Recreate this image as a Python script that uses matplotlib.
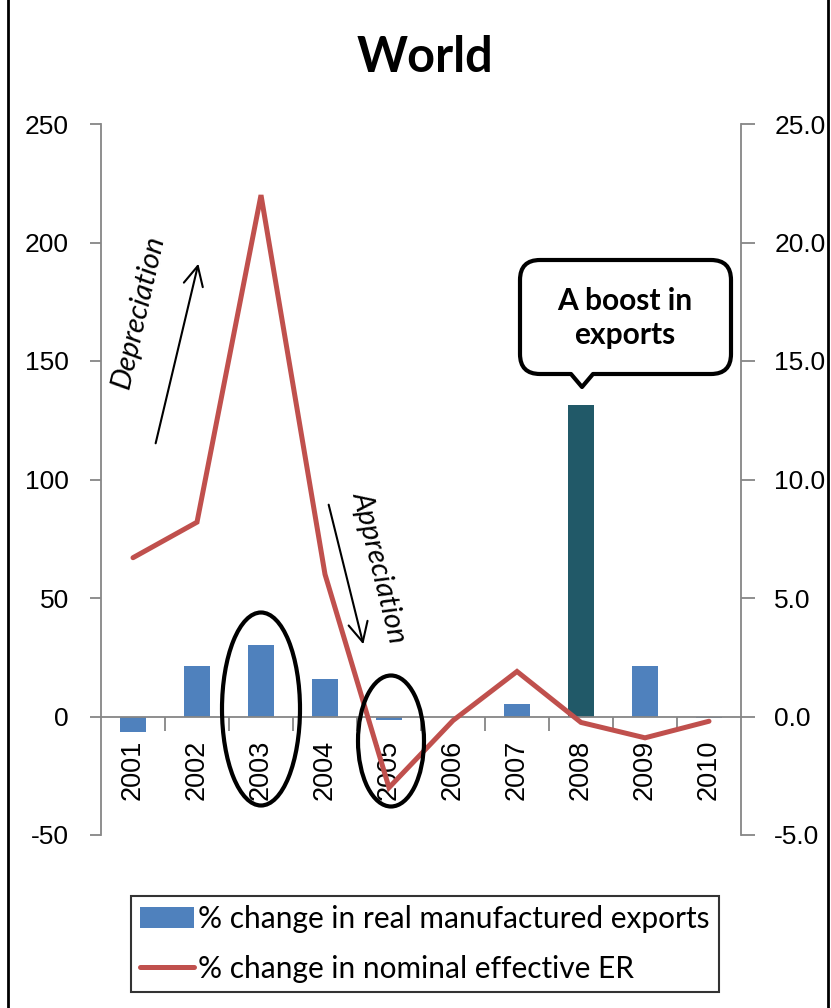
import matplotlib.pyplot as plt
import numpy as np
from matplotlib.patches import Ellipse, FancyArrowPatch, PathPatch, Patch
from matplotlib.path import Path
from matplotlib.transforms import Affine2D
from matplotlib.ticker import FormatStrFormatter
from matplotlib.lines import Line2D

years = ['2001', '2002', '2003', '2004', '2005', '2006', '2007', '2008', '2009', '2010']
exports_chg = [-6.6, 21.5, 30.0, 16.0, -1.5, 0.0, 5.1, 131.6, 21.1, -0.5]
neer_chg = [6.7, 8.2, 22.0, 6.0, -3.0, -0.17, 1.9, -0.25, -0.9, -0.2]
highlight_year = '2008'
left_ticks = [-50, 0, 50, 100, 150, 200, 250]
right_ticks = [-5, 0, 5, 10, 15, 20, 25]
label_bars = '% change in real manufactured exports'
label_line = '% change in nominal effective ER'

W, H = 831, 1008
BLUE = '#4F81BD'
TEAL = '#215968'
RED = '#C0504D'
GREY = '#868686'
CAL = 'Lato'
NUM = 'Liberation Sans'

plt.rcParams['axes.unicode_minus'] = False

fig = plt.figure(figsize=(W / 100, H / 100), dpi=100)
# pixel coords (y down) -> figure
pix = Affine2D().scale(1 / W, -1 / H).translate(0, 1) + fig.transFigure

ax = fig.add_axes([101 / W, 1 - 835 / H, 640 / W, 711 / H])
ax2 = ax.twinx()

x = np.arange(len(years))
colors = [TEAL if y == highlight_year else BLUE for y in years]
ax.bar(x, exports_chg, width=0.4, color=colors, zorder=2)
ax2.plot(x, neer_chg, color=RED, lw=3.6, solid_capstyle='round', solid_joinstyle='miter', zorder=3)

ax.set_xlim(-0.5, len(years) - 0.5)
ax.set_ylim(-50, 250)
ax2.set_ylim(-5, 25)
ax.set_yticks(left_ticks)
ax2.set_yticks(right_ticks)
ax2.yaxis.set_major_formatter(FormatStrFormatter('%.1f'))

for a in (ax, ax2):
    a.spines['top'].set_visible(False)
    a.patch.set_visible(False)
ax2.spines['bottom'].set_visible(False)
ax2.spines['left'].set_visible(False)
ax.spines['right'].set_visible(False)
ax.spines['bottom'].set_position(('data', 0))
for s in ('left', 'bottom'):
    ax.spines[s].set_color(GREY)
    ax.spines[s].set_linewidth(1.3)
ax2.spines['right'].set_color(GREY)
ax2.spines['right'].set_linewidth(1.3)

ax.set_xticks(x)
ax.set_xticklabels(years, rotation=90, fontsize=19.5, family=NUM)
ax.set_xticks(x[:-1] + 0.5, minor=True)
ax.tick_params(axis='x', which='major', length=0, pad=17)
ax.tick_params(axis='x', which='minor', length=10, width=1.3, color=GREY, direction='out')
ax.tick_params(axis='y', length=8, width=1.3, color=GREY, pad=15, labelsize=19)
ax2.tick_params(axis='y', length=10, width=1.3, color=GREY, pad=14, labelsize=19)
for lab in ax.get_yticklabels() + ax2.get_yticklabels():
    lab.set_family(NUM)

# title
fig.text(425, 58, 'World', transform=pix, ha='center', va='center',
         fontsize=35, fontweight='bold', family=CAL)

# ellipses around 2003 and 2005
for cx, cy, w, h in [(261, 709, 78, 193), (391, 741, 66, 131)]:
    fig.add_artist(Ellipse((cx, cy), w, h, transform=pix, fill=False,
                           edgecolor='black', lw=3))

# arrows with labels
fig.add_artist(FancyArrowPatch((155, 446), (199, 261), transform=pix,
                               arrowstyle='->,head_length=0.7,head_width=0.35',
                               mutation_scale=20, lw=1.5, color='black'))
fig.text(138, 312, 'Depreciation', transform=pix, rotation=77, ha='center', va='center',
         fontsize=21, style='italic', family=CAL)
fig.add_artist(FancyArrowPatch((328, 502), (364, 647), transform=pix,
                               arrowstyle='->,head_length=0.7,head_width=0.35',
                               mutation_scale=20, lw=1.5, color='black'))
fig.text(379, 567, 'Appreciation', transform=pix, rotation=-76, ha='center', va='center',
         fontsize=21, style='italic', family=CAL)

# callout box
L, R, T, B, r = 520, 731, 260, 374, 20
verts = [(L + r, T), (R - r, T), (R, T), (R, T + r), (R, B - r), (R, B), (R - r, B),
         (593, B), (582, 387), (571, B), (L + r, B), (L, B), (L, B - r), (L, T + r),
         (L, T), (L + r, T), (L + r, T)]
codes = [Path.MOVETO, Path.LINETO, Path.CURVE3, Path.CURVE3, Path.LINETO, Path.CURVE3,
         Path.CURVE3, Path.LINETO, Path.LINETO, Path.LINETO, Path.LINETO, Path.CURVE3,
         Path.CURVE3, Path.LINETO, Path.CURVE3, Path.CURVE3, Path.CLOSEPOLY]
fig.add_artist(PathPatch(Path(verts, codes), transform=pix, facecolor='white',
                         edgecolor='black', lw=3, joinstyle='round'))
fig.text(625, 318, 'A boost in\nexports', transform=pix, ha='center', va='center',
         fontsize=21.5, fontweight='bold', family=CAL, linespacing=1.25)

# legend
handles = [Patch(facecolor=BLUE), Line2D([0], [0], color=RED, lw=3.6, solid_capstyle='round')]
leg = fig.legend(handles, [label_bars, label_line], loc='center',
                 bbox_to_anchor=(425 / W, 1 - 944 / H), prop={'family': CAL, 'size': 21.5},
                 frameon=True, fancybox=False, edgecolor='black', handlelength=1.8,
                 handletextpad=0.15, borderpad=0.3, labelspacing=0.72, borderaxespad=0)
leg.get_frame().set_linewidth(1.5)

# outer frame
for xx in (8, 828):
    fig.add_artist(Line2D([xx, xx], [0, H], transform=pix, color='black', lw=2))

fig.savefig('out.png', dpi=100)
